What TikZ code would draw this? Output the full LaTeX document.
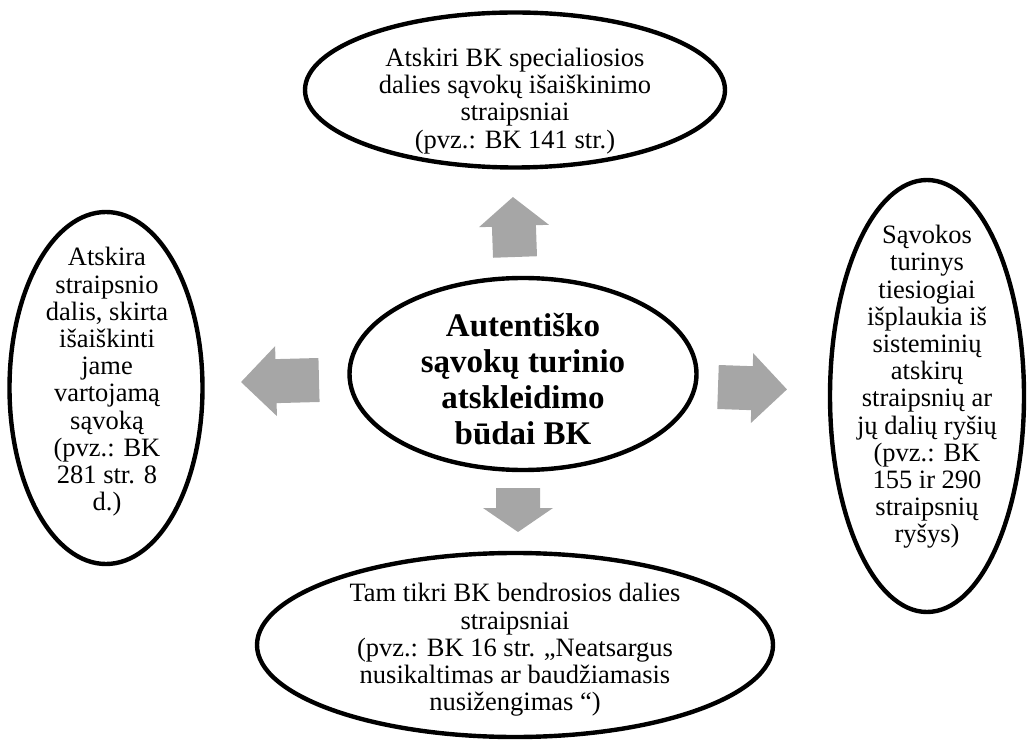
\documentclass[tikz,border=0pt]{standalone}
\usepackage{fontspec}
\setmainfont{Liberation Serif}
\usetikzlibrary{positioning,shapes.geometric}

\definecolor{arrowgray}{RGB}{166,166,166}
\newcommand{\ovalfont}{\fontsize{13.25}{13.6}\selectfont\setlength{\lineskiplimit}{-5pt}}
\newcommand{\mainfont}{\fontsize{16.5}{18}\selectfont\bfseries\setlength{\lineskiplimit}{-5pt}}

\tikzset{
  oval/.style={ellipse, draw=black, line width=2.2pt, inner sep=0pt},
  ovaltext/.style={align=center, font=\ovalfont},
  maintext/.style={align=center, font=\mainfont},
  pics/blockarrow/.style 2 args={code={
    \fill[arrowgray] (0,-22) -- (#1-#2,-22) -- (#1-#2,-35) -- (#1,0)
      -- (#1-#2,35) -- (#1-#2,22) -- (0,22) -- cycle;
  }}
}

\begin{document}
\begin{tikzpicture}[x=0.5pt, y=-0.5pt]

    \useasboundingbox (0,0) rectangle (1032,742);

    % ovals
    \node[oval, minimum width=210pt, minimum height=77.5pt] (top) at (515,90) {};
    \node[oval, minimum width=96.5pt, minimum height=176pt] (left) at (106,388) {};
    \node[oval, minimum width=173.5pt, minimum height=96pt] (centre) at (523,374) {};
    \node[oval, minimum width=97pt, minimum height=216pt] (right) at (927,396) {};
    \node[oval, minimum width=258pt, minimum height=92pt] (bottom) at (515,645) {};

    % texts
    \node[ovaltext] (toptext) at (515,101)
      {Atskiri BK specialiosios\\dalies sąvokų išaiškinimo\\straipsniai\\(pvz.: BK 141 str.)};
    \node[ovaltext] (lefttext) at (107,382)
      {Atskira\\straipsnio\\dalis, skirta\\išaiškinti\\jame\\vartojamą\\sąvoką\\(pvz.: BK\\281 str. 8\\d.)};
    \node[maintext] (centretext) at (523,379)
      {Autentiško\\sąvokų turinio\\atskleidimo\\būdai BK};
    \node[ovaltext] (righttext) at (927,387)
      {Sąvokos\\turinys\\tiesiogiai\\išplaukia iš\\sisteminių\\atskirų\\straipsnių ar\\jų dalių ryšių\\(pvz.: BK\\155 ir 290\\straipsnių\\ryšys)};
    \node[ovaltext] (bottomtext) at (515,650)
      {Tam tikri BK bendrosios dalies\\straipsniai\\(pvz.: BK 16 str. „Neatsargus\\nusikaltimas ar baudžiamasis\\nusižengimas “)};

    % block arrows
    \pic[rotate=92] (aup) at (515,257) {blockarrow={60}{29}};
    \pic[rotate=181.5] (aleft) at (319,380) {blockarrow={78}{35}};
    \pic[rotate=-2] (aright) at (718,387) {blockarrow={69}{35}};
    \pic[rotate=-90] (adown) at (518,488) {blockarrow={44}{24}};

\end{tikzpicture}
\end{document}
